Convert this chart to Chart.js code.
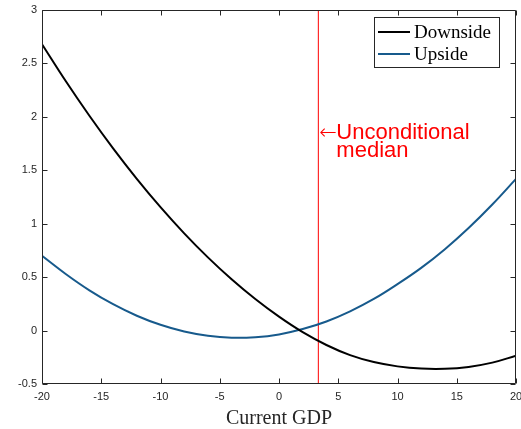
<!DOCTYPE html>
<html>
<head>
<meta charset="utf-8">
<script src="https://cdn.jsdelivr.net/npm/chart.js@4.4.1/dist/chart.umd.min.js"></script>
<style>
  html, body { margin: 0; padding: 0; background: #fff; }
  #chart { display: block; }
</style>
</head>
<body>
<canvas id="chart" width="521" height="429"></canvas>
<script>
// current GDP grid
const gdpX = [-20, -18, -16, -14, -12, -10, -8, -6, -4, -2, 0, 2, 4, 6, 8, 10, 12, 14, 16, 18, 20];
// values
const downside = [2.68, 2.335, 2.01, 1.705, 1.42, 1.155, 0.91, 0.685, 0.48, 0.295, 0.13, -0.015, -0.135, -0.23, -0.295, -0.335, -0.356, -0.358, -0.34, -0.30, -0.235];
const upside = [0.70, 0.53, 0.377, 0.247, 0.139, 0.054, -0.009, -0.049, -0.067, -0.062, -0.036, 0.014, 0.085, 0.18, 0.296, 0.435, 0.587, 0.762, 0.96, 1.18, 1.42];
const seriesNames = ['Downside', 'Upside'];
const medianGdp = 3.32;
const medianLabel = ['Unconditional', 'median'];
const xTicks = [-20, -15, -10, -5, 0, 5, 10, 15, 20];
const yTicks = [-0.5, 0, 0.5, 1, 1.5, 2, 2.5, 3];

const axisColor = '#262626';
const sansFont = "'Liberation Sans', Arial, Helvetica, sans-serif";
const serifFont = "'Liberation Serif', 'Times New Roman', serif";

function toPoints(xs, ys) {
    return xs.map((x, i) => ({ x: x, y: ys[i] }));
}

// MATLAB style box with inward ticks
const boxAxes = {
    id: 'boxAxes',
    afterDatasetsDraw(chart) {
        const { ctx, chartArea: a, scales } = chart;
        const L = Math.round(a.left) + 0.5, R = Math.round(a.right) - 0.5;
        const T = Math.round(a.top) + 0.5, B = Math.round(a.bottom) - 0.5;
        ctx.save();
        ctx.strokeStyle = axisColor;
        ctx.lineWidth = 1;
        ctx.beginPath();
        ctx.rect(L, T, R - L, B - T);
        xTicks.forEach(v => {
            const px = Math.round(scales.x.getPixelForValue(v)) + 0.5;
            ctx.moveTo(px, B); ctx.lineTo(px, B - 5);
            ctx.moveTo(px, T); ctx.lineTo(px, T + 5);
        });
        yTicks.forEach(v => {
            const py = Math.round(scales.y.getPixelForValue(v)) + 0.5;
            ctx.moveTo(L, py); ctx.lineTo(L + 5, py);
            ctx.moveTo(R, py); ctx.lineTo(R - 5, py);
        });
        ctx.stroke();
        ctx.restore();
    }
};

// legend box and red note
const notes = {
    id: 'notes',
    afterDraw(chart) {
        const { ctx, scales } = chart;
        ctx.save();
        // legend
        ctx.fillStyle = '#fff';
        ctx.fillRect(374.5, 17.5, 125, 50);
        ctx.strokeStyle = axisColor;
        ctx.lineWidth = 1;
        ctx.strokeRect(374.5, 17.5, 125, 50);
        const rows = [32, 54];
        ctx.font = '19px ' + serifFont;
        ctx.textBaseline = 'alphabetic';
        chart.data.datasets.slice(0, 2).forEach((ds, i) => {
            ctx.strokeStyle = ds.borderColor;
            ctx.lineWidth = 2;
            ctx.beginPath();
            ctx.moveTo(378, rows[i]);
            ctx.lineTo(410, rows[i]);
            ctx.stroke();
            ctx.fillStyle = '#000';
            ctx.fillText(ds.label, 414, rows[i] + 6);
        });
        // unconditional median note
        const px = scales.x.getPixelForValue(medianGdp);
        const py = scales.y.getPixelForValue(1.85);
        ctx.fillStyle = '#ff0000';
        ctx.font = "200 21px 'DejaVu Sans', sans-serif";
        ctx.fillText('\u2190', px + 1, py + 6);
        ctx.font = '22px ' + sansFont;
        ctx.fillText(medianLabel[0], px + 18, py + 6);
        ctx.fillText(medianLabel[1], px + 18, py + 24);
        ctx.restore();
    }
};

const ctx = document.getElementById('chart').getContext('2d');
const chart = new Chart(ctx, {
    type: 'scatter',
    data: {
        datasets: [
            {
                label: seriesNames[0],
                data: toPoints(gdpX, downside),
                borderColor: '#000000',
                borderWidth: 2,
                showLine: true,
                pointRadius: 0,
                tension: 0.4
            },
            {
                label: seriesNames[1],
                data: toPoints(gdpX, upside),
                borderColor: '#175a8c',
                borderWidth: 2,
                showLine: true,
                pointRadius: 0,
                tension: 0.4
            },
            {
                label: 'median',
                data: [{ x: medianGdp, y: yTicks[0] }, { x: medianGdp, y: yTicks[yTicks.length - 1] }],
                borderColor: '#ff0000',
                borderWidth: 1,
                showLine: true,
                pointRadius: 0
            }
        ]
    },
    options: {
        responsive: false,
        animation: false,
        layout: { padding: { top: 10, right: 5, left: 0, bottom: 0 } },
        plugins: {
            legend: { display: false },
            tooltip: { enabled: false }
        },
        scales: {
            x: {
                type: 'linear',
                min: -20,
                max: 20,
                afterBuildTicks: s => { s.ticks = xTicks.map(v => ({ value: v })); },
                afterFit: s => { s.height = 45; s.paddingLeft = 0; s.paddingRight = 0; },
                grid: { display: false, drawTicks: false },
                border: { display: false },
                ticks: {
                    padding: 6,
                    color: axisColor,
                    font: { family: sansFont, size: 11 },
                    callback: v => String(v)
                },
                title: {
                    display: true,
                    text: 'Current GDP',
                    color: axisColor,
                    font: { family: serifFont, size: 20 },
                    padding: { top: 0, bottom: -2 }
                }
            },
            y: {
                type: 'linear',
                min: -0.5,
                max: 3,
                afterBuildTicks: s => { s.ticks = yTicks.map(v => ({ value: v })); },
                afterFit: s => { s.width = 42; s.paddingTop = 0; s.paddingBottom = 0; },
                grid: { display: false, drawTicks: false },
                border: { display: false },
                ticks: {
                    padding: 5,
                    color: axisColor,
                    font: { family: sansFont, size: 11 },
                    callback: v => String(v)
                }
            }
        }
    },
    plugins: [boxAxes, notes]
});
</script>
</body>
</html>
